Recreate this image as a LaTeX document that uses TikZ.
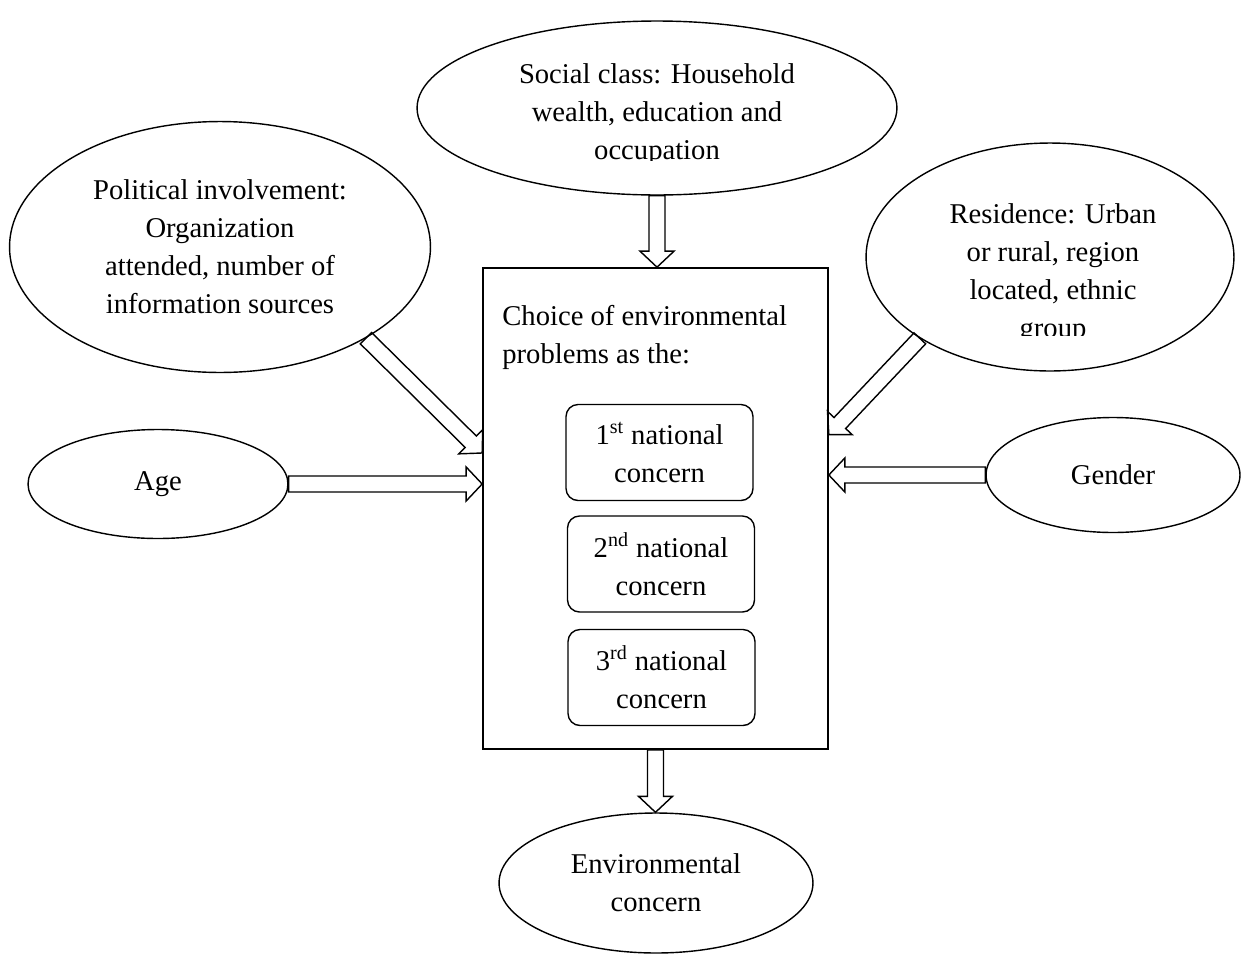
\documentclass[tikz,border=0pt]{standalone}
\usepackage{fontspec}
\setmainfont{Liberation Serif}
\usetikzlibrary{shapes.geometric,calc}

% hollow block arrow from #1 to #2
\newcommand{\hollowarrow}[2]{%
  \coordinate (ha-s) at (#1);
  \coordinate (ha-e) at (#2);
  \coordinate (ha-h) at ($(ha-e)!0.32cm!(ha-s)$);
  \draw[hollow] ($(ha-s)!0.16cm!90:(ha-e)$) -- ($(ha-h)!0.16cm!90:(ha-e)$)
    -- ($(ha-h)!0.34cm!90:(ha-e)$) -- (ha-e) -- ($(ha-h)!0.34cm!-90:(ha-e)$)
    -- ($(ha-h)!0.16cm!-90:(ha-e)$) -- ($(ha-s)!0.16cm!-90:(ha-e)$) -- cycle;
}

\begin{document}
\begin{tikzpicture}[
    x=0.02cm, y=-0.02cm,
    every node/.style={font=\fontsize{16.3}{21.6}\selectfont},
    oval/.style={ellipse, draw, line width=0.8pt, inner sep=0pt, align=center},
    txt/.style={inner sep=0pt, align=center},
    frame/.style={rectangle, draw, line width=1pt, inner sep=0pt},
    concern/.style={rectangle, draw, line width=0.8pt, rounded corners=0.24cm, align=center,
      minimum width=3.74cm, minimum height=1.92cm, inner sep=0pt},
    hollow/.style={draw, line width=0.8pt, line join=miter}
  ]
    \useasboundingbox (0,0) rectangle (1241,954);

    % Centre - choice of problems
    \node[frame, minimum width=6.9cm, minimum height=9.62cm] (choice) at (655.5,508.5) {};
    \node[txt, align=left, anchor=north west] (choicetext) at (502,305) {Choice of environmental\\problems as the:};
    \node[concern] (first) at (659.5,452.5) {1\textsuperscript{st} national\\concern};
    \node[concern] (second) at (661,564) {2\textsuperscript{nd} national\\concern};
    \node[concern] (third) at (661.5,677.5) {3\textsuperscript{rd} national\\concern};

    % Top - social class
    \node[oval, minimum width=9.6cm, minimum height=3.48cm] (social) at (657,108) {};
    \begin{scope}
      \clip (420,20) rectangle (900,160);
      \node[txt] (socialtext) at (657,115) {Social class: Household\\wealth, education and\\occupation};
    \end{scope}

    % Left - political involvement and age
    \node[oval, minimum width=8.42cm, minimum height=5.02cm] (political) at (220,247)
      {Political involvement:\\Organization\\attended, number of\\information sources};
    \node[oval, minimum width=5.2cm, minimum height=2.18cm] (age) at (158,484) {Age};

    % Right - residence and gender
    \node[oval, minimum width=7.36cm, minimum height=4.56cm] (residence) at (1050,257) {};
    \begin{scope}
      \clip (870,150) rectangle (1241,335);
      \node[txt] (residencetext) at (1053,274) {Residence: Urban\\or rural, region\\located, ethnic\\group};
    \end{scope}
    \node[oval, minimum width=5.08cm, minimum height=2.3cm] (gender) at (1113,475) {Gender};

    % Bottom - outcome
    \node[oval, minimum width=6.28cm, minimum height=2.8cm] (environment) at (656,883)
      {Environmental\\concern};

    % Block arrows
    \hollowarrow{social.south}{social.south |- choice.north}
    \hollowarrow{political.-32}{$(choice.north west)!0.385!(choice.south west)$}
    \hollowarrow{age.east}{age.east -| choice.west}
    \hollowarrow{residence.212}{$(choice.north east)!0.347!(choice.south east)$}
    \hollowarrow{gender.west}{gender.west -| choice.east}
    \hollowarrow{choice.south}{choice.south |- environment.north}

  \end{tikzpicture}
\end{document}
